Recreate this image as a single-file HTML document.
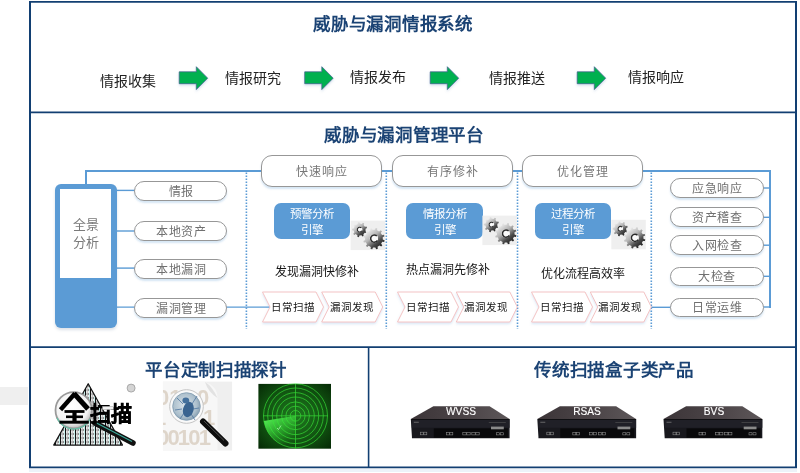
<!DOCTYPE html>
<html lang="zh-CN">
<head>
<meta charset="utf-8">
<style>
html,body{margin:0;padding:0;background:#fff;}
body{width:800px;height:473px;position:relative;overflow:hidden;font-family:"Liberation Sans",sans-serif;}
.a{position:absolute;}
.t{position:absolute;white-space:nowrap;text-align:center;width:400px;will-change:transform;}
.ttl{font-size:17.5px;line-height:17.5px;letter-spacing:0.7px;font-weight:bold;color:#1b4374;}
.flow{font-size:14px;line-height:14px;color:#222;}
.pill{position:absolute;box-sizing:border-box;border:1px solid #979797;background:#fff;border-radius:10px;box-shadow:0 2px 2px rgba(91,155,213,0.25);}
.ptxt{font-size:12px;line-height:12px;letter-spacing:0.5px;color:#707070;}
.hl{position:absolute;background:#5b9bd5;height:2px;}
.vl{position:absolute;background:#5b9bd5;width:2px;}
.dot{position:absolute;width:0;border-left:2px dotted #5b9bd5;}
.eng{position:absolute;box-sizing:border-box;background:#5b9bd5;border-radius:7px;}
.etxt{font-size:11.5px;line-height:16px;color:#fff;}
.note{font-size:12px;line-height:12px;color:#151515;}
.dots{position:absolute;top:172px;height:157px;width:1.5px;background:repeating-linear-gradient(to bottom,#6ea7dc 0,#6ea7dc 1.6px,transparent 1.6px,transparent 3px);}
.big{border-radius:11px;}
.ptxt2{will-change:transform;font-size:13px;line-height:18px;color:#7a7a7a;text-align:center;}
.srvt{width:100px;text-align:center;font-size:10.2px;line-height:10px;color:#fff;will-change:transform;-webkit-text-stroke:0.15px #fff;}
.chev{font-size:10.5px;line-height:10.5px;letter-spacing:0.8px;color:#151515;}
</style>
</head>
<body>
<!-- outer frame -->
<svg class="a" style="left:0;top:0" width="800" height="473">
  <g stroke="#123f72" fill="none">
    <line x1="29" y1="1.8" x2="797" y2="1.8" stroke-width="1.8"/>
    <line x1="30" y1="0.9" x2="30" y2="468.1" stroke-width="2"/>
    <line x1="796" y1="0.9" x2="796" y2="468.1" stroke-width="2"/>
    <line x1="29" y1="467.3" x2="797" y2="467.3" stroke-width="1.7"/>
    <line x1="29" y1="112.3" x2="797" y2="112.3" stroke-width="1.7"/>
    <line x1="29" y1="347.1" x2="797" y2="347.1" stroke-width="1.8"/>
    <line x1="368.6" y1="347.1" x2="368.6" y2="467.3" stroke-width="1.6"/>
  </g>
</svg>
<div class="a" style="left:29px;top:469px;width:768px;height:2.5px;background:#edf2f9;"></div>
<div class="a" style="left:0;top:387px;width:28px;height:18px;background:#efefef;"></div>

<!-- section 1 -->
<div class="t ttl" style="left:193.3px;top:15.5px;">威胁与漏洞情报系统</div>
<div class="t flow" style="left:-72px;top:74px;">情报收集</div>
<div class="t flow" style="left:53px;top:71px;">情报研究</div>
<div class="t flow" style="left:178px;top:70px;">情报发布</div>
<div class="t flow" style="left:317px;top:71px;">情报推送</div>
<div class="t flow" style="left:456px;top:70px;">情报响应</div>

<svg class="a" style="left:0;top:0" width="800" height="473">
  <defs>
    <linearGradient id="ga" x1="0" y1="0" x2="0" y2="1">
      <stop offset="0" stop-color="#00b050"/><stop offset="1" stop-color="#00a84a"/>
    </linearGradient>
  </defs>
  <filter id="ash" x="-20%" y="-20%" width="140%" height="160%"><feDropShadow dx="0" dy="1.5" stdDeviation="1" flood-color="#6c8ebf" flood-opacity="0.3"/></filter>
  <g fill="#00b050" stroke="#3d5d8d" stroke-width="0.7" filter="url(#ash)">
    <polygon points="179.2,71.8 196.3,71.8 196.3,66.7 207.7,78.15 196.3,89.6 196.3,83.7 179.2,83.7"/>
    <polygon points="304.7,71.8 321.8,71.8 321.8,66.7 333.2,78.15 321.8,89.6 321.8,83.7 304.7,83.7"/>
    <polygon points="430.2,71.8 447.3,71.8 447.3,66.7 458.7,78.15 447.3,89.6 447.3,83.7 430.2,83.7"/>
    <polygon points="577.2,71.8 594.3,71.8 594.3,66.7 605.7,78.15 594.3,89.6 594.3,83.7 577.2,83.7"/>
  </g>
</svg>

<!-- section 2 -->
<div class="t ttl" style="left:204.3px;top:127px;">威胁与漏洞管理平台</div>

<!-- connectors -->
<div class="hl" style="left:85px;top:170px;width:686px;height:2px;"></div>
<div class="vl" style="left:85px;top:170px;width:2px;height:15px;"></div>
<div class="vl" style="left:769px;top:170px;width:2px;height:138px;"></div>
<svg class="a" style="left:0;top:0" width="800" height="473">
  <g stroke="#5b9bd5" stroke-width="1.4">
    <line x1="115" y1="190.4" x2="135" y2="190.4"/>
    <line x1="115" y1="231" x2="135" y2="231"/>
    <line x1="115" y1="268.1" x2="135" y2="268.1"/>
    <line x1="115" y1="307.1" x2="271" y2="307.1"/>
    <line x1="650" y1="307.3" x2="671" y2="307.3"/>
    <line x1="763" y1="188" x2="770" y2="188"/>
    <line x1="763" y1="217.3" x2="770" y2="217.3"/>
    <line x1="763" y1="245.2" x2="770" y2="245.2"/>
    <line x1="763" y1="276.3" x2="770" y2="276.3"/>
    <line x1="763" y1="307" x2="770" y2="307"/>
  </g>
</svg>

<!-- dotted separators -->
<svg class="a" style="left:0;top:0" width="800" height="473">
  <g stroke="#5b9bd5" stroke-width="1.6" stroke-dasharray="1.6 1.4">
    <line x1="246.4" y1="172.5" x2="246.4" y2="329"/>
    <line x1="386.3" y1="172.5" x2="386.3" y2="329"/>
    <line x1="517.5" y1="172.5" x2="517.5" y2="329"/>
    <line x1="651.3" y1="172.5" x2="651.3" y2="329"/>
  </g>
</svg>

<!-- left block -->
<div class="a" style="left:55px;top:184px;width:61.5px;height:144px;background:#5b9bd5;border-radius:6px;box-shadow:0 2px 3px rgba(60,90,130,0.18);"></div>
<div class="a" style="left:60px;top:189px;width:51px;height:89px;background:#fff;"></div>
<div class="a ptxt2" style="left:60px;top:216px;width:51px;">全景<br>分析</div>

<!-- left pills -->
<div class="pill" style="left:134px;top:181px;width:93px;height:20px;"></div>
<div class="pill" style="left:134px;top:221.3px;width:93px;height:20px;"></div>
<div class="pill" style="left:134px;top:258.6px;width:93px;height:20px;"></div>
<div class="pill" style="left:134px;top:297.6px;width:93px;height:20px;"></div>
<div class="t ptxt" style="left:-19.5px;top:185.9px;">情报</div>
<div class="t ptxt" style="left:-19.5px;top:226.2px;">本地资产</div>
<div class="t ptxt" style="left:-19.5px;top:263.6px;">本地漏洞</div>
<div class="t ptxt" style="left:-19.5px;top:302.5px;">漏洞管理</div>

<!-- top pills -->
<div class="pill big" style="left:261px;top:155px;width:121px;height:32px;"></div>
<div class="pill big" style="left:392px;top:155px;width:121px;height:32px;"></div>
<div class="pill big" style="left:522px;top:155px;width:121px;height:32px;"></div>
<div class="t ptxt" style="left:121.5px;top:166.4px;color:#777;letter-spacing:0.8px;">快速响应</div>
<div class="t ptxt" style="left:252.5px;top:166.4px;color:#777;letter-spacing:0.8px;">有序修补</div>
<div class="t ptxt" style="left:382.5px;top:166.4px;color:#777;letter-spacing:0.8px;">优化管理</div>

<!-- engines -->
<div class="eng" style="left:273.7px;top:203px;width:76.6px;height:36px;"></div>
<div class="eng" style="left:406.2px;top:203px;width:76.5px;height:36px;"></div>
<div class="eng" style="left:535px;top:203px;width:76px;height:36px;"></div>
<div class="t etxt" style="left:112px;top:206px;">预警分析<br>引擎</div>
<div class="t etxt" style="left:244.5px;top:206px;">情报分析<br>引擎</div>
<div class="t etxt" style="left:373px;top:206px;">过程分析<br>引擎</div>

<!-- gears -->
<svg class="a" style="left:0;top:0" width="800" height="473">
  <defs>
    <linearGradient id="gg" x1="0.15" y1="0.1" x2="0.85" y2="0.95">
      <stop offset="0" stop-color="#f6f6f6"/><stop offset="0.4" stop-color="#b4b4b4"/><stop offset="0.7" stop-color="#4a4a4a"/><stop offset="1" stop-color="#1a1a1a"/>
    </linearGradient>
    <g id="gear">
      <rect x="0" y="0" width="34.5" height="29.5" fill="#efefef"/>
      <path fill="url(#gg)" fill-rule="evenodd" d="M14.88,10.19 L16.33,11.03 L15.74,12.50 L14.12,12.13 L12.74,13.69 L13.31,15.26 L11.91,16.02 L10.91,14.69 L8.85,15.00 L8.28,16.57 L6.72,16.25 L6.80,14.58 L5.03,13.50 L3.58,14.33 L2.59,13.09 L3.73,11.87 L3.07,9.89 L1.42,9.60 L1.46,8.01 L3.12,7.81 L3.88,5.87 L2.81,4.59 L3.86,3.40 L5.26,4.31 L7.09,3.31 L7.09,1.64 L8.66,1.41 L9.15,3.00 L11.20,3.42 L12.27,2.14 L13.62,2.97 L12.97,4.50 L14.27,6.13 L15.91,5.84 L16.42,7.35 L14.93,8.11Z M6.40,9.00 a2.60,2.60 0 1,0 5.20,0 a2.60,2.60 0 1,0 -5.20,0Z"/>
      <path fill="url(#gg)" fill-rule="evenodd" d="M32.16,18.89 L33.97,19.64 L33.59,21.29 L31.62,21.15 L30.52,23.20 L31.73,24.76 L30.56,25.99 L28.93,24.89 L26.96,26.11 L27.22,28.06 L25.60,28.55 L24.73,26.78 L22.41,26.86 L21.66,28.67 L20.01,28.29 L20.15,26.32 L18.10,25.22 L16.54,26.43 L15.31,25.26 L16.41,23.63 L15.19,21.66 L13.24,21.92 L12.75,20.30 L14.52,19.43 L14.44,17.11 L12.63,16.36 L13.01,14.71 L14.98,14.85 L16.08,12.80 L14.87,11.24 L16.04,10.01 L17.67,11.11 L19.64,9.89 L19.38,7.94 L21.00,7.45 L21.87,9.22 L24.19,9.14 L24.94,7.33 L26.59,7.71 L26.45,9.68 L28.50,10.78 L30.06,9.57 L31.29,10.74 L30.19,12.37 L31.41,14.34 L33.36,14.08 L33.85,15.70 L32.08,16.57Z M19.30,18.00 a4.00,4.00 0 1,0 8.00,0 a4.00,4.00 0 1,0 -8.00,0Z"/>
      <circle cx="9" cy="9" r="2.7" fill="#fafafa"/>
      <path d="M10.8,7.3 A2.4,2.4 0 1 0 11.2,10.2" fill="none" stroke="#2a2a2a" stroke-width="1.1"/>
      <circle cx="23.3" cy="18" r="4.1" fill="#fafafa"/>
      <path d="M26.2,15.4 A3.6,3.6 0 1 0 26.8,19.8" fill="none" stroke="#2a2a2a" stroke-width="1.5"/>
    </g>
  </defs>
  <use href="#gear" x="350.6" y="220.6"/>
  <use href="#gear" x="482.4" y="215.6"/>
  <use href="#gear" x="611.3" y="219.8"/>
</svg>

<!-- notes -->
<div class="t note" style="left:116.5px;top:266px;">发现漏洞快修补</div>
<div class="t note" style="left:247.5px;top:264px;">热点漏洞先修补</div>
<div class="t note" style="left:382.5px;top:268.2px;">优化流程高效率</div>

<!-- chevrons -->
<svg class="a" style="left:0;top:0" width="800" height="473">
  <defs>
    <filter id="cs" x="-10%" y="-10%" width="120%" height="130%">
      <feDropShadow dx="0" dy="1.5" stdDeviation="1" flood-color="#5b9bd5" flood-opacity="0.25"/>
    </filter>
    <polygon id="chv" points="0.5,0.5 54,0.5 61.5,15.5 54,30.5 0.5,30.5 8,15.5"/>
  </defs>
  <g fill="#fff" stroke="#f3bdbd" stroke-width="0.9" filter="url(#cs)">
    <use href="#chv" x="262" y="291.5"/>
    <use href="#chv" x="321.2" y="291.5"/>
    <use href="#chv" x="397" y="291.5"/>
    <use href="#chv" x="455.8" y="291.5"/>
    <use href="#chv" x="531" y="291.5"/>
    <use href="#chv" x="589.8" y="291.5"/>
  </g>
</svg>
<div class="t chev" style="left:92.6px;top:301.9px;">日常扫描</div>
<div class="t chev" style="left:151.8px;top:301.9px;">漏洞发现</div>
<div class="t chev" style="left:227.6px;top:301.9px;">日常扫描</div>
<div class="t chev" style="left:286.4px;top:301.9px;">漏洞发现</div>
<div class="t chev" style="left:361.6px;top:301.9px;">日常扫描</div>
<div class="t chev" style="left:420.4px;top:301.9px;">漏洞发现</div>

<!-- right pills -->
<div class="pill" style="left:670px;top:178px;width:94px;height:19.7px;"></div>
<div class="pill" style="left:670px;top:207px;width:94px;height:19.7px;"></div>
<div class="pill" style="left:670px;top:235.2px;width:94px;height:19.7px;"></div>
<div class="pill" style="left:670px;top:266.7px;width:94px;height:19.7px;"></div>
<div class="pill" style="left:670px;top:297.5px;width:94px;height:19.7px;"></div>
<div class="t ptxt" style="left:517px;top:182.5px;">应急响应</div>
<div class="t ptxt" style="left:517px;top:211.5px;">资产稽查</div>
<div class="t ptxt" style="left:517px;top:239.7px;">入网检查</div>
<div class="t ptxt" style="left:517px;top:271.2px;">大检查</div>
<div class="t ptxt" style="left:517px;top:302px;">日常运维</div>

<!-- section 3 -->
<div class="t ttl" style="left:15.5px;top:362px;">平台定制扫描探针</div>
<div class="t ttl" style="left:413.8px;top:361.5px;">传统扫描盒子类产品</div>

<svg class="a" style="left:0;top:0" width="800" height="473">
  <defs>
    <pattern id="stripe" patternUnits="userSpaceOnUse" width="5" height="4" x="0" y="0">
      <rect width="5" height="4" fill="#fff"/>
      <rect x="0" width="1.1" height="4" fill="#111"/>
      <ellipse cx="2.8" cy="2" rx="0.9" ry="1.2" fill="none" stroke="#222" stroke-width="0.5"/>
      <rect x="4.3" width="0.7" height="4" fill="#b5ebe7"/>
    </pattern>
    <radialGradient id="lensg" cx="0.45" cy="0.4" r="0.6">
      <stop offset="0" stop-color="#ffffff"/><stop offset="0.75" stop-color="#f4f4f4"/><stop offset="1" stop-color="#bdbdbd"/>
    </radialGradient>
    <radialGradient id="glass" cx="0.45" cy="0.45" r="0.6">
      <stop offset="0" stop-color="#dce5eb"/><stop offset="0.7" stop-color="#adc0cd"/><stop offset="1" stop-color="#7f98ab"/>
    </radialGradient>
    <radialGradient id="radbg" cx="0.5" cy="0.5" r="0.7">
      <stop offset="0" stop-color="#1f7a1f"/><stop offset="0.6" stop-color="#115211"/><stop offset="1" stop-color="#062a06"/>
    </radialGradient>
    <linearGradient id="sweep" x1="0" y1="0.2" x2="0.6" y2="1">
      <stop offset="0" stop-color="#5cff5c" stop-opacity="0.85"/><stop offset="1" stop-color="#3aff3a" stop-opacity="0"/>
    </linearGradient>
    <clipPath id="pageclip"><path d="M163,382 L205,382 Q217.5,386 217.5,398 L217.5,450.5 L163,450.5Z"/></clipPath>
  </defs>

  <!-- logo 全扫描 -->
  <polygon points="88.2,383.7 53.7,445.1 122.5,445.1" fill="url(#stripe)" stroke="#111" stroke-width="1.2" stroke-linejoin="round"/>
  <circle cx="131.1" cy="388.1" r="4" fill="#d4d4d4" stroke="#9a9a9a" stroke-width="0.8"/>
  <line x1="95" y1="423" x2="133" y2="443" stroke="#111" stroke-width="5.5" stroke-linecap="round"/>
  <line x1="97" y1="423.2" x2="132" y2="441.6" stroke="#3aa99a" stroke-width="1.1"/>
  <circle cx="73.7" cy="410.3" r="18.2" fill="url(#lensg)" stroke="#9a9a9a" stroke-width="1.8"/>
  <path d="M57,418 A18.2,18.2 0 0 0 90,419" fill="none" stroke="#66c2a8" stroke-width="1.2"/>
  <g stroke="#000" fill="none" stroke-linecap="butt">
    <path d="M75,393.5 L60.5,409.8" stroke-width="4.4"/>
    <path d="M74,393.5 L88,409" stroke-width="5"/>
    <path d="M64.5,411.5 H84.5" stroke-width="2.8"/>
    <path d="M66,416.8 H83" stroke-width="2.6"/>
    <path d="M59.5,422.2 H88.8" stroke-width="3"/>
    <path d="M74.5,411 V422" stroke-width="4.2"/>
  </g>
  <text x="89.5" y="420.5" font-family="Liberation Serif" font-weight="bold" font-size="21" fill="#000" stroke="#000" stroke-width="0.5">扫描</text>
  <rect x="102.5" y="406.3" width="11" height="3.4" fill="#f2f2f2" stroke="#888" stroke-width="0.4"/>

  <!-- bug icon -->
  <rect x="162.9" y="381.6" width="69.2" height="68.9" fill="#efefef"/>
  <path d="M163,382 L205,382 Q217.5,386 217.5,398 L217.5,450.5 L163,450.5Z" fill="#f7f7f7"/>
  <g clip-path="url(#pageclip)" fill="#ded5ca" font-family="Liberation Sans" font-weight="bold" font-size="22">
    <text x="157" y="404.8">01</text><text x="197" y="404.8">0</text>
    <text x="154" y="425">1</text><text x="203" y="425">1</text>
    <text x="157" y="444.5" letter-spacing="-1.8">00101</text>
  </g>
  <path d="M205,382 Q208,392 217.5,398 Q212,386 205,382Z" fill="#e2e2e2"/>
  <line x1="203" y1="421.5" x2="225.5" y2="443.5" stroke="#0e0e0e" stroke-width="6" stroke-linecap="round"/>
  <line x1="204" y1="421" x2="224" y2="440.5" stroke="#555" stroke-width="0.9"/>
  <circle cx="186.5" cy="406.5" r="16.8" fill="#fafafa" stroke="#c4c4c4" stroke-width="1"/>
  <circle cx="186.5" cy="406.5" r="13.8" fill="url(#glass)" stroke="#7f9ab0" stroke-width="0.8"/>
  <g stroke="#4f76a0" stroke-width="0.8" fill="none">
    <path d="M183,404 L177,398"/><path d="M182,409 L175,410"/><path d="M184,413 L180,419"/>
    <path d="M192,404 L197,396"/><path d="M193,409 L199,408"/><path d="M191,414 L195,420"/>
  </g>
  <ellipse cx="188.3" cy="409.5" rx="5.3" ry="7.8" transform="rotate(15 188.3 409.5)" fill="#3a6490"/>
  <ellipse cx="185.8" cy="400.5" rx="3.4" ry="3" fill="#44709c"/>

  <!-- radar -->
  <rect x="258.4" y="383.9" width="72.6" height="64.8" fill="url(#radbg)"/>
  <path d="M295.5,415.8 L263.8,421 A32,32 0 0 0 295.5,447.8Z" fill="url(#sweep)"/>
  <g fill="none" stroke="#3ae83a" stroke-width="0.75" opacity="0.85">
    <circle cx="295.5" cy="415.8" r="5.3"/><circle cx="295.5" cy="415.8" r="9.6"/><circle cx="295.5" cy="415.8" r="13.9"/>
    <circle cx="295.5" cy="415.8" r="18.8"/><circle cx="295.5" cy="415.8" r="23.2"/><circle cx="295.5" cy="415.8" r="27.8"/>
    <circle cx="295.5" cy="415.8" r="32"/>
    <line x1="295.5" y1="384" x2="295.5" y2="448.7"/><line x1="263" y1="415.8" x2="328" y2="415.8"/>
  </g>
  <path d="M277,428 L278.5,429.5 L281,425.5" fill="none" stroke="#b8ffb8" stroke-width="0.7"/>

  <!-- servers -->
  <defs>
    <linearGradient id="topg" x1="0" y1="0" x2="1" y2="0">
      <stop offset="0" stop-color="#3c3538"/><stop offset="0.6" stop-color="#4d4649"/><stop offset="1" stop-color="#5d5759"/>
    </linearGradient>
    <g id="srv">
      <polygon points="22.6,0 78.8,0 98.8,12.9 0,12.9" fill="url(#topg)"/>
      <polygon points="0,12.9 98.8,12.9 98.8,32 1.2,32" fill="#18181d"/>
      <rect x="1" y="13.6" width="97.8" height="8" fill="#202027"/>
      <rect x="1" y="12.9" width="97.8" height="0.7" fill="#0c0c0e"/>
      <rect x="23" y="22.2" width="74" height="9.3" fill="#09090b"/>
      <rect x="80.2" y="20.4" width="12.8" height="2.7" fill="#8a8a8a"/>
      <rect x="3" y="15.6" width="5" height="0.8" fill="#777"/>
      <rect x="78" y="16" width="17" height="0.6" fill="#555"/>
      <g fill="none" stroke="#8a8a8a" stroke-width="0.6">
        <rect x="9.5" y="26" width="3" height="2.6"/><rect x="13" y="26" width="3" height="2.6"/>
        <rect x="35.5" y="26.3" width="3" height="2.4"/><rect x="39" y="26.3" width="3" height="2.4"/>
        <rect x="52" y="26.3" width="3.4" height="2.4"/><rect x="56" y="26.3" width="3.4" height="2.4"/>
        <rect x="61" y="26.3" width="3.4" height="2.4"/><rect x="65" y="26.3" width="3.4" height="2.4"/>
        <rect x="85.5" y="26.5" width="3" height="2.2"/><rect x="89.5" y="26.5" width="3" height="2.2"/>
      </g>
    </g>
  </defs>
  <use href="#srv" x="410.8" y="406.2"/>
  <use href="#srv" x="537.3" y="406.2"/>
  <use href="#srv" x="663.5" y="406.2"/>
</svg>
<div class="a srvt" style="left:410.8px;top:407px;">WVSS</div>
<div class="a srvt" style="left:537.3px;top:407px;">RSAS</div>
<div class="a srvt" style="left:663.5px;top:407px;">BVS</div>

</body>
</html>
